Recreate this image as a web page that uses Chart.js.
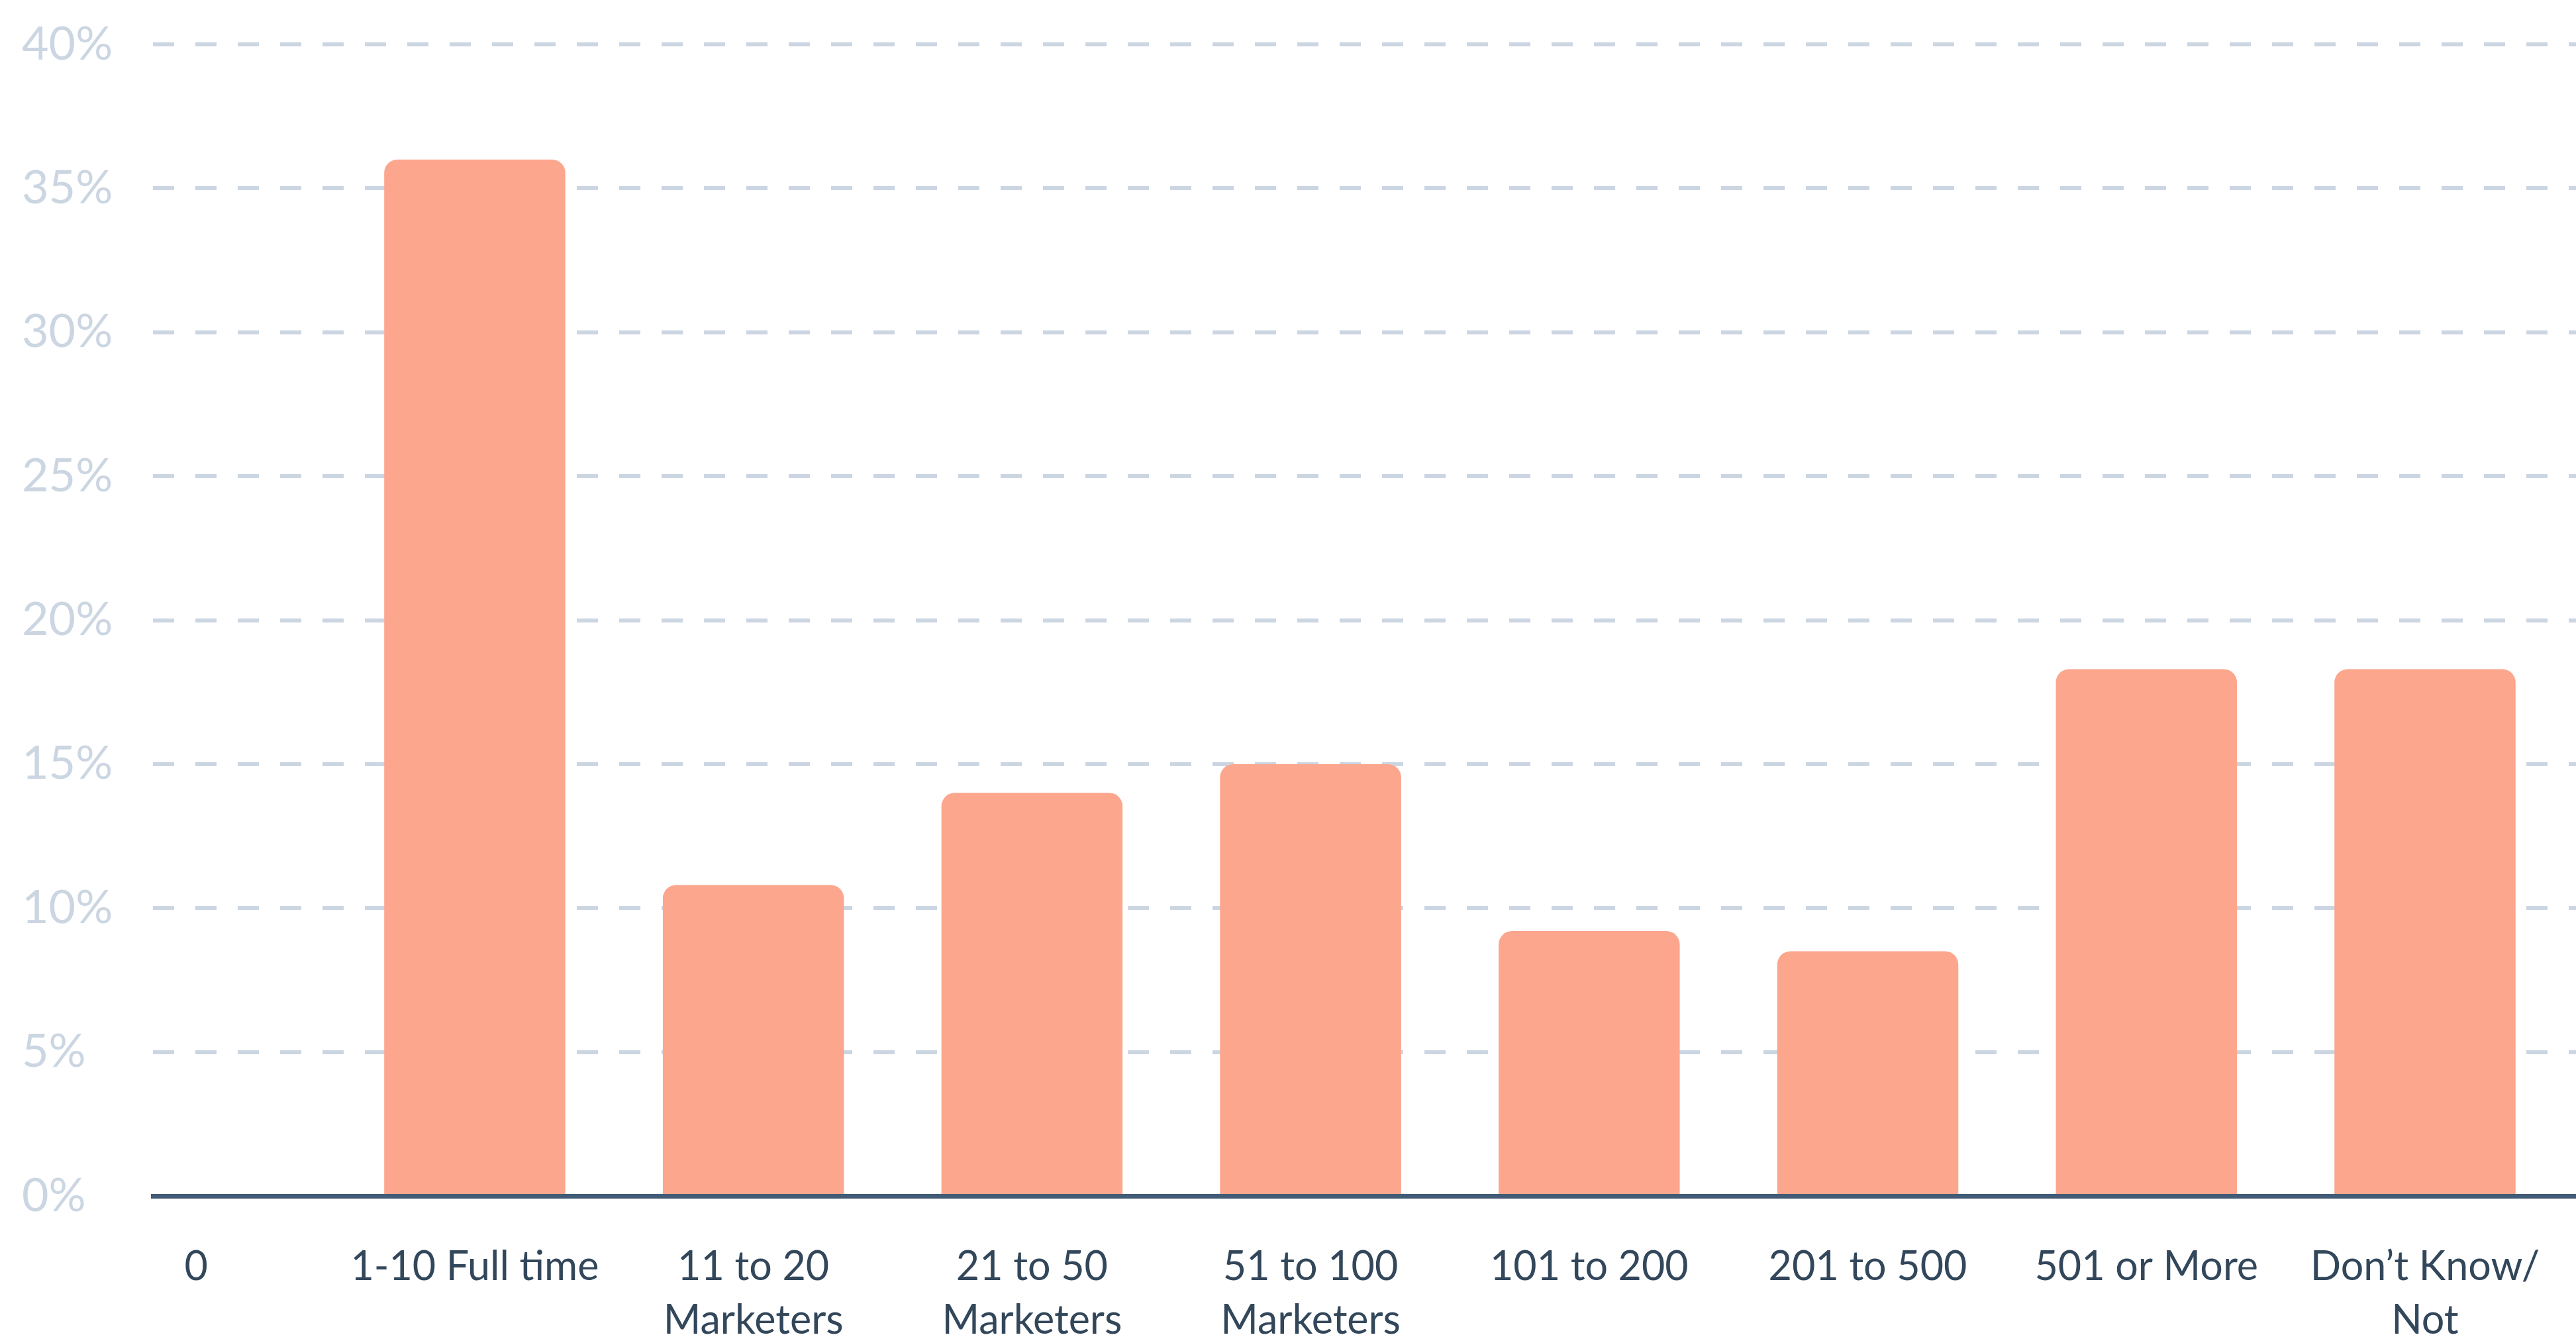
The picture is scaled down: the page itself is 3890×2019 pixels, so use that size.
<!DOCTYPE html>
<html>
<head>
<meta charset="utf-8">
<title>Marketing team size</title>
<script src="https://cdn.jsdelivr.net/npm/chart.js@4/dist/chart.umd.min.js"></script>
<style>
  html, body { margin: 0; padding: 0; background: #fff; }
  #wrap { position: relative; width: 3890px; height: 2019px; }
</style>
</head>
<body>
<div id="wrap"><canvas id="team-size"></canvas></div>
<script>
const categories = [
  '0',
  '1-10 Full time',
  ['11 to 20', 'Marketers'],
  ['21 to 50', 'Marketers'],
  ['51 to 100', 'Marketers'],
  '101 to 200',
  '201 to 500',
  '501 or More',
  ['Don’t Know/', 'Not'],
];
const shares = [0, 36, 10.8, 14, 15, 9.2, 8.5, 18.3, 18.3];
const yTicks = [0, 5, 10, 15, 20, 25, 30, 35, 40];

const FONT = "Lato, 'Open Sans', sans-serif";

new Chart(document.getElementById('team-size'), {
  type: 'bar',
  data: {
    datasets: [
      {
        data: shares.map((v, i) => ({ x: i, y: v })),
        backgroundColor: '#fca68d',
        borderRadius: 20,
        borderSkipped: 'start',
        barPercentage: 0.65,
        categoryPercentage: 1,
      },
    ],
  },
  options: {
    responsive: true,
    maintainAspectRatio: false,
    animation: false,
    layout: { padding: { left: 33, top: 67, right: 0, bottom: 0 } },
    plugins: {
      legend: { display: false },
      tooltip: { enabled: false },
    },
    scales: {
      x: {
        type: 'linear',
        offset: false,
        min: -0.155,
        max: 8.542,
        afterBuildTicks: (axis) => {
          axis.ticks = categories.map((_, i) => ({ value: i }));
        },
        afterFit: (axis) => {
          // plot runs to the right edge, labels fit inside anyway
          axis.height = 213;
          axis.paddingLeft = 0;
          axis.paddingRight = 0;
        },
        grid: { display: false, drawTicks: false, offset: false },
        border: { display: true, color: '#425b76', width: 7, z: 1 },
        ticks: {
          autoSkip: false,
          maxRotation: 0,
          minRotation: 0,
          padding: 67,
          color: '#33475b',
          font: { family: FONT, size: 61, lineHeight: 1.33 },
          callback: (value) => categories[value],
        },
      },
      y: {
        min: yTicks[0],
        max: yTicks[yTicks.length - 1],
        afterBuildTicks: (axis) => {
          axis.ticks = yTicks.map((v) => ({ value: v }));
        },
        afterFit: (axis) => {
          axis.width = 198;
        },
        grid: {
          drawTicks: false,
          lineWidth: 6,
          color: (ctx) => (ctx.tick && ctx.tick.value === 0 ? 'rgba(0,0,0,0)' : '#cbd6e2'),
        },
        border: { display: false, dash: [32, 32] },
        ticks: {
          crossAlign: 'far',
          padding: 0,
          color: '#cbd6e2',
          font: { family: FONT, size: 70 },
          callback: (value) => value + '%',
        },
      },
    },
  },
});
</script>
</body>
</html>
